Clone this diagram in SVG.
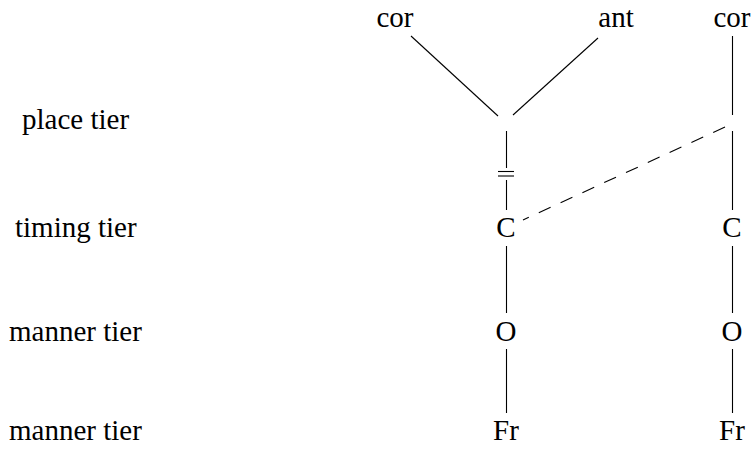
<svg xmlns="http://www.w3.org/2000/svg" width="755" height="451" viewBox="0 0 755 451">
<style>
text{font-family:"Liberation Serif","Times New Roman",serif;font-size:29px;fill:#000}
.m{text-anchor:middle}
line{stroke:#000;stroke-width:1.1;fill:none}
.d{stroke-dasharray:13 11}
</style>
<rect width="755" height="451" fill="#fff"/>
<g id="labels">
<text x="22" y="129">place tier</text>
<text x="15" y="237">timing tier</text>
<text x="9" y="341">manner tier</text>
<text x="9" y="440">manner tier</text>
</g>
<g id="n-cor1"><text class="m" x="395" y="27">cor</text></g>
<g id="n-ant"><text class="m" x="616" y="27">ant</text></g>
<g id="n-cor2"><text class="m" x="732" y="27">cor</text></g>
<g id="n-C1"><text class="m" x="506" y="237">C</text></g>
<g id="n-C2"><text class="m" x="732" y="237">C</text></g>
<g id="n-O1"><text class="m" x="506" y="341">O</text></g>
<g id="n-O2"><text class="m" x="732" y="341">O</text></g>
<g id="n-Fr1"><text class="m" x="506" y="440">Fr</text></g>
<g id="n-Fr2"><text class="m" x="732" y="440">Fr</text></g>
<g id="connectors">
<line x1="411" y1="36" x2="498" y2="116"/>
<line x1="598" y1="38" x2="513" y2="115"/>
<line x1="506.5" y1="131" x2="506.5" y2="168"/>
<line x1="498" y1="171.5" x2="514" y2="171.5"/>
<line x1="498" y1="176" x2="514" y2="176"/>
<line x1="506.5" y1="180" x2="506.5" y2="210"/>
<line x1="732.5" y1="36" x2="732.5" y2="115"/>
<line x1="732.5" y1="131" x2="732.5" y2="210"/>
<line class="d" x1="725" y1="127" x2="523" y2="220"/>
<line x1="506.5" y1="246" x2="506.5" y2="313"/>
<line x1="732.5" y1="246" x2="732.5" y2="313"/>
<line x1="506.5" y1="349" x2="506.5" y2="413"/>
<line x1="732.5" y1="349" x2="732.5" y2="413"/>
</g>
</svg>
